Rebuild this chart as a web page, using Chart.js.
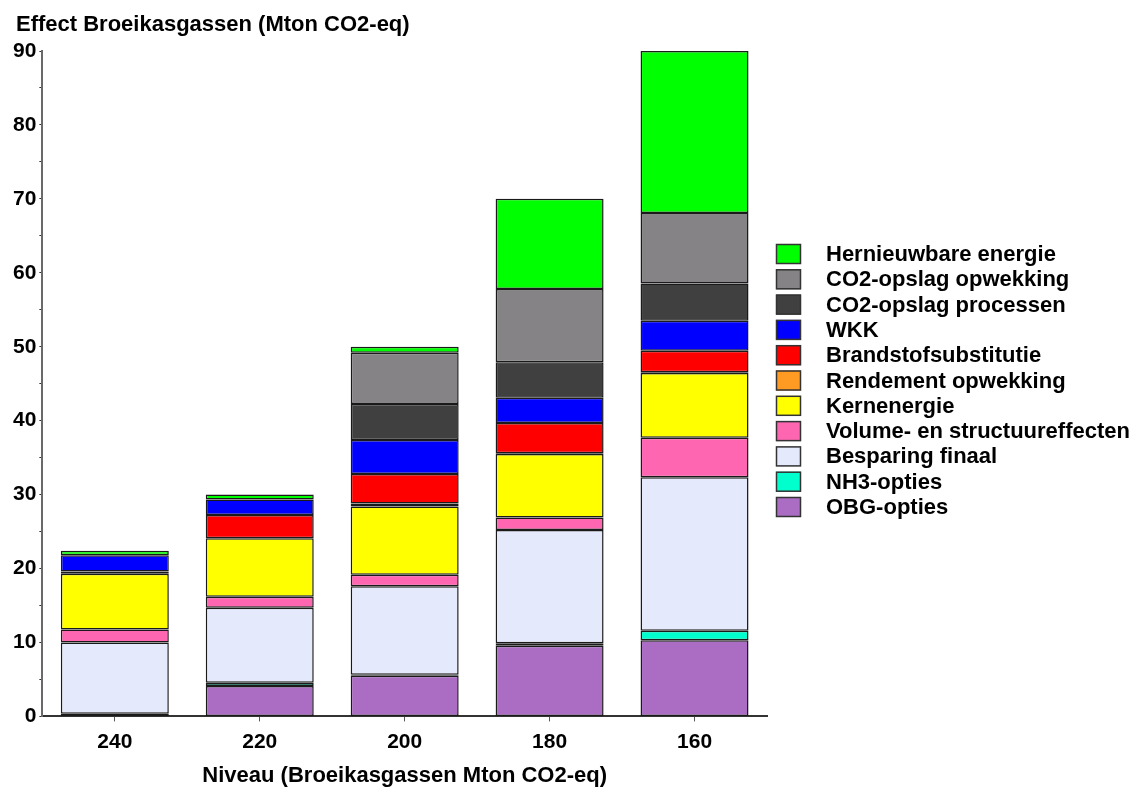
<!DOCTYPE html>
<html>
<head>
<meta charset="utf-8">
<script src="https://cdn.jsdelivr.net/npm/chart.js@4"></script>
<style>
html,body{margin:0;padding:0;background:#fff;}
#wrap{width:1136px;height:789px;position:relative;}
</style>
</head>
<body>
<div id="wrap"><canvas id="c" width="1136" height="789"></canvas></div>
<script>
const categories = ['240', '220', '200', '180', '160'];

const obgOpties        = [0.0, 4.1, 5.5, 9.55, 10.3];
const nh3Opties        = [0.35, 0.45, 0.15, 0.35, 1.3];
const besparingFinaal  = [9.65, 10.15, 11.95, 15.3, 20.75];
const volumeStructuur  = [1.75, 1.5, 1.55, 1.7, 5.35];
const kernenergie      = [7.55, 7.9, 9.25, 8.6, 8.75];
const rendementOpwek   = [0.0, 0.0, 0.4, 0.1, 0.1];
const brandstofSubst   = [0.3, 3.15, 4.0, 4.1, 2.9];
const wkk              = [2.2, 2.1, 4.6, 3.4, 4.05];
const co2Processen     = [0.0, 0.0, 4.85, 4.8, 5.05];
const co2Opwekking     = [0.0, 0.0, 6.95, 9.9, 9.55];
const hernieuwbaar     = [0.6, 0.65, 0.8, 12.2, 21.9];

const seriesNames = ['OBG-opties', 'NH3-opties', 'Besparing finaal', 'Volume- en structuureffecten',
  'Kernenergie', 'Rendement opwekking', 'Brandstofsubstitutie', 'WKK',
  'CO2-opslag processen', 'CO2-opslag opwekking', 'Hernieuwbare energie'];
const seriesValues = [obgOpties, nh3Opties, besparingFinaal, volumeStructuur, kernenergie,
  rendementOpwek, brandstofSubst, wkk, co2Processen, co2Opwekking, hernieuwbaar];
const seriesColors = ['#ab6cc4', '#00ffcc', '#e4e9fc', '#ff66b2', '#ffff00', '#ff9a22',
  '#ff0000', '#0000ff', '#404040', '#858385', '#00ff00'];

const yTickValues = [0, 10, 20, 30, 40, 50, 60, 70, 80, 90];
const yAxisTitle = 'Effect Broeikasgassen (Mton CO2-eq)';
const xAxisTitle = 'Niveau (Broeikasgassen Mton CO2-eq)';

const FONT = '"Liberation Sans", Arial, sans-serif';

const legendPlugin = {
  id: 'sideLegend',
  afterDraw(chart) {
    const ctx = chart.ctx;
    const ds = chart.data.datasets;
    ctx.save();
    ctx.font = 'bold 22px ' + FONT;
    ctx.textBaseline = 'middle';
    ctx.textAlign = 'left';
    ctx.fillStyle = '#000';
    ctx.fillText(yAxisTitle, 16, 25);
    const x0 = 776, y0 = 254, pitch = 25.3;
    for (let k = 0; k < ds.length; k++) {
      const d = ds[ds.length - 1 - k];
      const cy = y0 + k * pitch;
      ctx.fillStyle = d.backgroundColor;
      ctx.fillRect(x0, cy - 10, 25, 20);
      ctx.lineWidth = 1.5;
      ctx.strokeStyle = '#333';
      ctx.strokeRect(x0 + 0.5, cy - 9.5, 24, 19);
      ctx.fillStyle = '#000';
      ctx.fillText(d.label, 826, cy + 1);
    }
    ctx.restore();
  }
};

new Chart(document.getElementById('c'), {
  type: 'bar',
  data: {
    labels: categories,
    datasets: seriesNames.map((n, i) => ({
      label: n,
      data: seriesValues[i],
      backgroundColor: seriesColors[i],
      borderColor: '#1a1a1a',
      borderWidth: 1.5,
      borderSkipped: false,
      barPercentage: 0.745,
      categoryPercentage: 1.0
    }))
  },
  options: {
    responsive: false,
    animation: false,
    layout: { padding: { left: 10, right: 369, top: 51, bottom: 0 } },
    plugins: {
      legend: { display: false },
      tooltip: { enabled: false },
      title: { display: false }
    },
    scales: {
      x: {
        stacked: true,
        border: { display: true, color: '#333', width: 2 },
        grid: { display: true, offset: false, drawOnChartArea: false, drawTicks: true, tickLength: 5, color: '#555' },
        ticks: { color: '#000', padding: 8, font: { family: FONT, size: 21, weight: 'bold' } },
        title: {
          display: true,
          text: xAxisTitle,
          color: '#000',
          font: { family: FONT, size: 22, weight: 'bold' },
          padding: { top: 0, bottom: 0 }
        }
      },
      y: {
        stacked: true,
        min: 0,
        max: 90,
        border: { display: true, color: '#6a6a6a', width: 2 },
        grid: { display: true, drawOnChartArea: false, drawTicks: true, tickLength: 3, color: '#333' },
        ticks: {
          stepSize: 5,
          color: '#000',
          padding: 3,
          font: { family: FONT, size: 21, weight: 'bold' },
          callback: (v) => yTickValues.includes(v) ? String(v) : ''
        }
      }
    }
  },
  plugins: [legendPlugin]
});
</script>
</body>
</html>
